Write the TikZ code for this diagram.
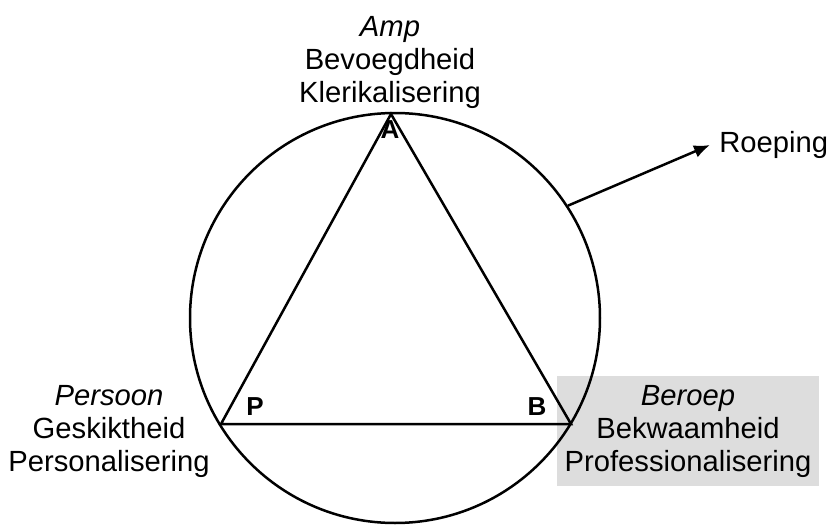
\documentclass[tikz,border=0pt]{standalone}
\usepackage{fontspec}
\setmainfont{Liberation Sans}
\usetikzlibrary{positioning, arrows.meta}
\definecolor{boxgrey}{RGB}{221,221,221}

\begin{document}
\begin{tikzpicture}[x=0.5pt, y=-0.5pt,
  role/.style={align=center, font=\fontsize{14.6}{16.5}\selectfont, inner sep=0pt},
  corner/.style={font=\fontsize{13}{14}\selectfont\bfseries, inner sep=0pt},
  edge/.style={line width=1.25pt},
  ar/.style={-{Latex[length=8pt, width=6.5pt]}, line width=1.25pt}]
\useasboundingbox (0,0) rectangle (832,525);

% grey box first, the circle runs over it
\node[role, fill=boxgrey, minimum width=131pt, minimum height=55pt] (ber) at (688,431) {\textit{Beroep}\\Bekwaamheid\\Professionalisering};

% circle with the triangle inside
\node[circle, draw, edge, minimum size=205pt, inner sep=0pt] (ring) at (395,318) {};
\coordinate (a) at (391,114);
\coordinate (p) at (221,424);
\coordinate (b) at (571,424);
\draw[edge, line join=miter] (a) -- (p) -- (b) -- cycle;

\node[corner] (la) at (390,130) {A};
\node[corner] (lp) at (255,407) {P};
\node[corner] (lb) at (537,407) {B};

% the other two roles
\node[role] (amp) at (390,62) {\textit{Amp}\\Bevoegdheid\\Klerikalisering};
\node[role] (pers) at (109,431) {\textit{Persoon}\\Geskiktheid\\Personalisering};

% calling
\node[role, anchor=west, inner sep=4.5pt] (roep) at (710,145) {Roeping};
\draw[ar] (ring.33) -- (roep.west);
\end{tikzpicture}
\end{document}
